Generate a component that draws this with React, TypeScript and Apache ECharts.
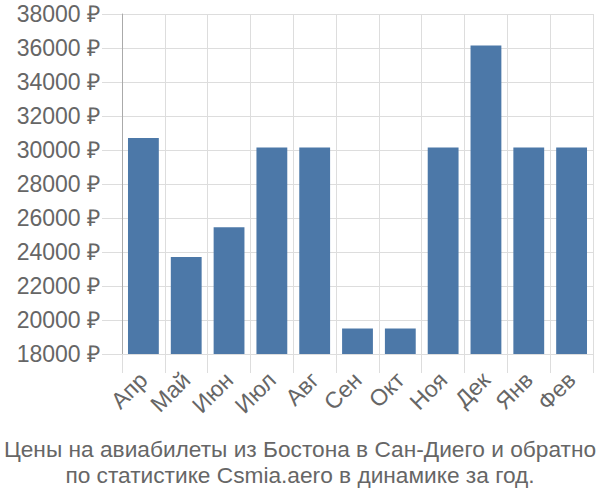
import React, { useEffect, useRef } from "react";
import * as echarts from "echarts";

const months = ["Апр", "Май", "Июн", "Июл", "Авг", "Сен", "Окт", "Ноя", "Дек", "Янв", "Фев"];
const prices = [30700, 23700, 25450, 30150, 30150, 19500, 19500, 30150, 36150, 30150, 30150];
const titleLines = [
  "Цены на авиабилеты из Бостона в Сан-Диего и обратно",
  "по статистике Csmia.aero в динамике за год.",
];

export default function App() {
  const ref = useRef<HTMLDivElement>(null);
  useEffect(() => {
    const chart = echarts.init(ref.current!, null, { renderer: "svg" });
    chart.setOption({
      animation: false,
      textStyle: { fontFamily: "Liberation Sans" },
      title: {
        text: titleLines.join("\n"),
        left: "center",
        top: 431,
        textStyle: { fontSize: 22.7, fontWeight: "normal", color: "#666", lineHeight: 26, fontFamily: "Liberation Sans" },
      },
      grid: { left: 122, right: 7, top: 14, bottom: 146 },
      xAxis: {
        type: "category",
        data: months,
        axisLine: { lineStyle: { color: "#ddd" } },
        axisTick: { show: true, length: 19, lineStyle: { color: "#ddd" } },
        splitLine: { show: true, lineStyle: { color: "#ddd" } },
        axisLabel: { rotate: 45, fontSize: 23, color: "#666", margin: 22 },
      },
      yAxis: {
        type: "value",
        min: 18000,
        max: 38000,
        interval: 2000,
        axisLine: { show: true, lineStyle: { color: "#aaa" } },
        axisTick: { show: true, length: 20, lineStyle: { color: "#ddd" } },
        splitLine: { show: true, lineStyle: { color: "#ddd" } },
        axisLabel: { formatter: (v: number) => `${v} ₽`, fontSize: 23, color: "#666", margin: 22 },
      },
      series: [
        {
          type: "bar",
          data: prices,
          barCategoryGap: "28%",
          itemStyle: { color: "#4c78a8" },
        },
      ],
    });
    return () => chart.dispose();
  }, []);
  return <div ref={ref} style={{ width: 600, height: 500, position: "absolute", left: 0, top: 0 }} />;
}
